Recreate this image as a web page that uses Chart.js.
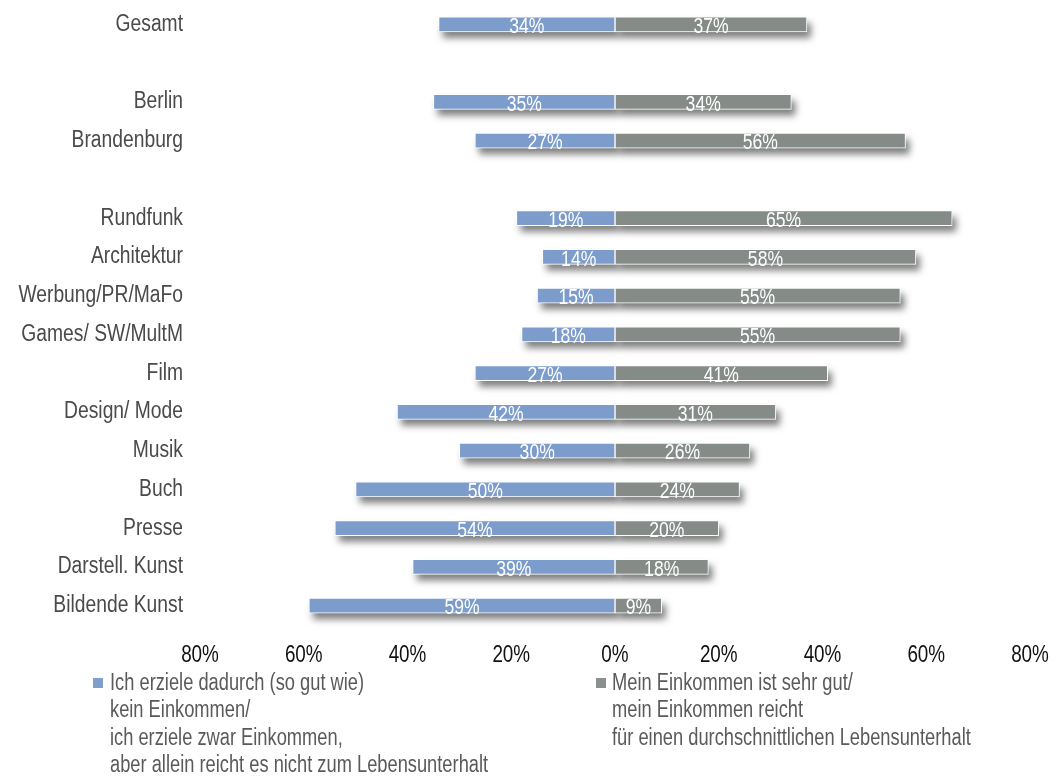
<!DOCTYPE html>
<html>
<head>
<meta charset="utf-8">
<script src="https://cdn.jsdelivr.net/npm/chart.js@4/dist/chart.umd.min.js"></script>
<style>
  body { margin: 0; background: #fff; }
  #wrap { position: relative; width: 1056px; height: 776px; overflow: hidden; }
  .legend { position: absolute; top: 669px; font-family: "Liberation Sans", Arial, sans-serif; font-size: 23px; line-height: 27.3px; color: #5a5a5a; white-space: nowrap; transform: scaleX(0.795); transform-origin: 0 0; }
  .box { position: absolute; top: 678px; width: 10px; height: 10px; }
</style>
</head>
<body>
<div id="wrap">
  <canvas id="incomeChart" width="1056" height="776"></canvas>
  <span class="box" style="left:93px;background:#7f9fcd"></span>
  <div class="legend" style="left:110px">Ich erziele dadurch (so gut wie)<br>kein Einkommen/<br>ich erziele zwar Einkommen,<br>aber allein reicht es nicht zum Lebensunterhalt</div>
  <span class="box" style="left:596px;background:#8a918d"></span>
  <div class="legend" style="left:612px">Mein Einkommen ist sehr gut/<br>mein Einkommen reicht<br>für einen durchschnittlichen Lebensunterhalt</div>
</div>
<script>
const categories = ['Gesamt', '', 'Berlin', 'Brandenburg', '', 'Rundfunk', 'Architektur', 'Werbung/PR/MaFo', 'Games/ SW/MultM', 'Film', 'Design/ Mode', 'Musik', 'Buch', 'Presse', 'Darstell. Kunst', 'Bildende Kunst'];
// share without (sufficient) income, drawn to the left
const noIncome = [34, null, 35, 27, null, 19, 14, 15, 18, 27, 42, 30, 50, 54, 39, 59];
// share with good / sufficient income, drawn to the right
const goodIncome = [37, null, 34, 56, null, 65, 58, 55, 55, 41, 31, 26, 24, 20, 18, 9];
const tickValues = [-80, -60, -40, -20, 0, 20, 40, 60, 80];

// the original uses a narrow sans, so text is squeezed horizontally
function narrowText(ctx, text, x, y, size, squeeze, align, color) {
    ctx.save();
    ctx.translate(x, y);
    ctx.scale(squeeze, 1);
    ctx.font = size + 'px "Liberation Sans", Arial, sans-serif';
    ctx.fillStyle = color;
    ctx.textAlign = align;
    ctx.textBaseline = 'middle';
    ctx.fillText(text, 0, 0);
    ctx.restore();
}

const barStyle = {
    id: 'barStyle',
    // bar elements clip to themselves, so the drop shadow is painted separately underneath
    beforeDatasetsDraw(chart) {
        const ctx = chart.ctx;
        ctx.save();
        ctx.shadowColor = 'rgba(0,0,0,0.5)';
        ctx.shadowBlur = 7;
        ctx.shadowOffsetX = 4 + 3000;
        ctx.shadowOffsetY = 6;
        ctx.fillStyle = '#000';
        chart.data.datasets.forEach((ds, i) => {
            chart.getDatasetMeta(i).data.forEach((el, j) => {
                if (ds.data[j] === null) return;
                const p = el.getProps(['x', 'y', 'base', 'height']);
                const left = Math.min(p.x, p.base), w = Math.abs(p.x - p.base);
                ctx.fillRect(left - 3000, p.y - p.height / 2, w, p.height);
            });
        });
        ctx.restore();
    },
    afterDatasetsDraw(chart) {
        const ctx = chart.ctx;
        chart.data.datasets.forEach((ds, i) => {
            chart.getDatasetMeta(i).data.forEach((el, j) => {
                const v = ds.data[j];
                if (v === null) return;
                narrowText(ctx, Math.abs(v) + '%', (el.x + el.base) / 2, el.y + 2.5, 22.5, 0.78, 'center', '#ffffff');
            });
        });
    },
    afterDraw(chart) {
        const ctx = chart.ctx;
        const xs = chart.scales.x, ys = chart.scales.y;
        categories.forEach((c, i) => {
            if (c) narrowText(ctx, c, chart.chartArea.left - 17, ys.getPixelForTick(i), 23.5, 0.82, 'right', '#4a4a4a');
        });
        tickValues.forEach(v => {
            narrowText(ctx, Math.abs(v) + '%', xs.getPixelForValue(v), chart.chartArea.bottom + 31, 23, 0.82, 'center', '#111111');
        });
    }
};

new Chart(document.getElementById('incomeChart'), {
    type: 'bar',
    data: {
        labels: categories,
        datasets: [
            {
                label: 'kein Einkommen',
                data: noIncome.map(v => v === null ? null : -v),
                backgroundColor: '#7c9ccb',
                borderColor: '#ffffff',
                borderWidth: 1,
                borderSkipped: false,
                barThickness: 15
            },
            {
                label: 'Einkommen reicht',
                data: goodIncome,
                backgroundColor: '#858c88',
                borderColor: '#ffffff',
                borderWidth: 1,
                borderSkipped: false,
                barThickness: 15
            }
        ]
    },
    options: {
        indexAxis: 'y',
        responsive: false,
        animation: false,
        devicePixelRatio: 1,
        layout: { padding: { top: 5, right: 26, bottom: 119, left: 0 } },
        plugins: {
            legend: { display: false },
            tooltip: { enabled: false }
        },
        scales: {
            x: {
                stacked: true,
                min: -80,
                max: 80,
                afterFit: s => { s.height = 32; s.paddingLeft = 0; s.paddingRight = 0; },
                ticks: { display: false },
                grid: { display: false },
                border: { display: false }
            },
            y: {
                stacked: true,
                afterFit: s => { s.width = 200; s.paddingTop = 0; s.paddingBottom = 0; },
                ticks: { display: false },
                grid: { display: false },
                border: { display: false }
            }
        }
    },
    plugins: [barStyle]
});
</script>
</body>
</html>
